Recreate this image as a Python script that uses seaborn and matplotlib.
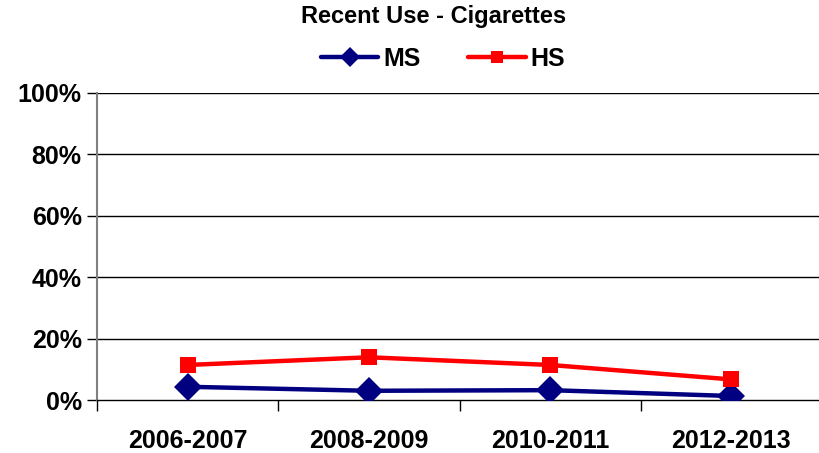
import matplotlib
matplotlib.use("Agg")
import matplotlib.pyplot as plt
import seaborn as sns
import pandas as pd
import numpy as np
from matplotlib.lines import Line2D

categories = ["2006-2007", "2008-2009", "2010-2011", "2012-2013"]
ms_values = [4.3, 3.0, 3.2, 1.3]
hs_values = [11.4, 13.9, 11.4, 6.7]
y_ticks = [0, 20, 40, 60, 80, 100]
y_tick_labels = ["0%", "20%", "40%", "60%", "80%", "100%"]
title = "Recent Use - Cigarettes"

sns.set_theme(style="white")
plt.rcParams['font.family'] = ['Liberation Sans', 'DejaVu Sans']
plt.rcParams['text.color'] = 'black'
plt.rcParams['xtick.color'] = 'black'
plt.rcParams['ytick.color'] = 'black'

ms_df = pd.DataFrame({"x": np.arange(len(categories)), "value": ms_values})
hs_df = pd.DataFrame({"x": np.arange(len(categories)), "value": hs_values})

fig = plt.figure(figsize=(8.19, 4.53), dpi=100)
ax = fig.add_axes([97 / 819, (453 - 400) / 453, (822 - 97) / 819, (400 - 92.7) / 453])

sns.lineplot(data=ms_df, x="x", y="value", color="#000080", marker="D",
             markersize=14, linewidth=3.2, markeredgewidth=0, ax=ax, zorder=3)
sns.lineplot(data=hs_df, x="x", y="value", color="#FF0000", marker="s",
             markersize=12, linewidth=3.2, markeredgewidth=0, ax=ax, zorder=3)

ax.set_xlim(-0.5, 3.5)
ax.set_ylim(0, 100)
ax.set_yticks(y_ticks)
ax.set_yticklabels(y_tick_labels, fontsize=18, fontweight="bold", color="black")
ax.set_xticks(np.arange(len(categories)))
ax.set_xticklabels(categories, fontsize=18, fontweight="bold", color="black")
ax.set_xticks(np.arange(-0.5, len(categories), 1.0), minor=True)
ax.tick_params(axis="x", which="major", length=0, pad=21)
ax.tick_params(axis="x", which="minor", length=8, width=1, color="black", direction="out", bottom=True)
ax.tick_params(axis="y", which="major", length=7, width=1, color="black", direction="out", left=True, pad=4)
ax.set_xlabel("")
ax.set_ylabel("")
for yv in y_ticks[1:]:
    ax.axhline(yv, color="black", linewidth=1, zorder=0)
for side in ["top", "right"]:
    ax.spines[side].set_visible(False)
ax.spines["left"].set_color("#808080")
ax.spines["left"].set_linewidth(1.5)
ax.spines["bottom"].set_color("black")
ax.spines["bottom"].set_linewidth(1)

fig.text(434 / 819, 1 - 17 / 453, title, ha="center", va="center",
         fontsize=17, fontweight="bold", color="black")

handles = [
    Line2D([], [], color="#000080", marker="D", markersize=10, linewidth=3.2, markeredgewidth=0),
    Line2D([], [], color="#FF0000", marker="s", markersize=9, linewidth=3.2, markeredgewidth=0),
]
fig.legend(handles, ["MS", "HS"], loc="center", bbox_to_anchor=(443 / 819, 1 - 59 / 453),
           ncol=2, frameon=False, prop={"weight": "bold", "size": 18},
           handlelength=2.3, columnspacing=1.9, handletextpad=0.2, labelcolor="black")

fig.savefig("out.png", dpi=100)
